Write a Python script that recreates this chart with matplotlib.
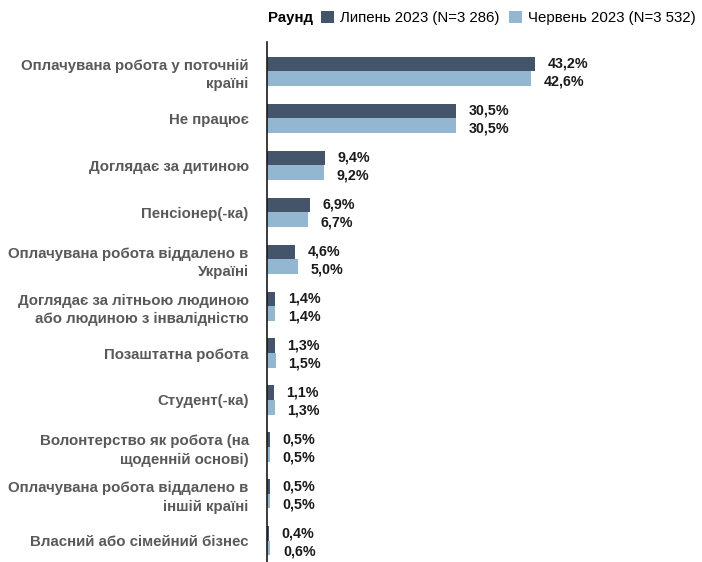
import numpy as np
import matplotlib.pyplot as plt

plt.rcParams['font.family'] = ['Liberation Sans', 'DejaVu Sans']

categories = [
    'Оплачувана робота у поточній\nкраїні',
    'Не працює',
    'Доглядає за дитиною',
    'Пенсіонер(-ка)',
    'Оплачувана робота віддалено в\nУкраїні',
    'Доглядає за літньою людиною\nабо людиною з інвалідністю',
    'Позаштатна робота',
    'Студент(-ка)',
    'Волонтерство як робота (на\nщоденній основі)',
    'Оплачувана робота віддалено в\nіншій країні',
    'Власний або сімейний бізнес',
]
july = [43.2, 30.5, 9.4, 6.9, 4.6, 1.4, 1.3, 1.1, 0.5, 0.5, 0.4]
june = [42.6, 30.5, 9.2, 6.7, 5.0, 1.4, 1.5, 1.3, 0.5, 0.5, 0.6]
series_names = ['Липень 2023 (N=3 286)', 'Червень 2023 (N=3 532)']

dark = '#44546a'
light = '#94b7d1'

fig = plt.figure(figsize=(7.02, 5.62), dpi=100)
ax = fig.add_axes([0.38, 0.0, 0.57, 0.925])

y = np.arange(len(categories))
h = 0.31
b1 = ax.barh(y - h / 2, july, height=h, color=dark, label=series_names[0])
b2 = ax.barh(y + h / 2, june, height=h, color=light, label=series_names[1])

for bars, vals, dy in ((b1, july, 0), (b2, june, -2.2)):
    for bar, v in zip(bars, vals):
        ax.annotate(f'{v:.1f}%'.replace('.', ','),
                    (bar.get_width(), bar.get_y() + bar.get_height() / 2),
                    xytext=(9, dy), textcoords='offset points',
                    va='center', ha='left', fontsize=10.3,
                    fontweight='bold', color='#1a1a1a')

ax.set_xlim(0, 64.5)
ax.set_ylim(len(categories) - 1 + 0.45, -0.62)
ax.set_yticks(y)
ax.set_yticklabels(categories, fontsize=10.8, fontweight='bold',
                   color='#595959', linespacing=1.4)
ax.tick_params(axis='y', length=0, pad=13)
ax.set_xticks([])
for s in ('top', 'right', 'bottom'):
    ax.spines[s].set_visible(False)
ax.spines['left'].set_color('#1a1a1a')
ax.spines['left'].set_linewidth(1.2)

fig.text(0.382, 0.968, 'Раунд', fontsize=10.8, fontweight='bold',
         va='center', ha='left')
fig.legend(handles=[b1, b2], labels=series_names, ncol=2, frameon=False,
           loc='center left', bbox_to_anchor=(0.457, 0.968),
           fontsize=10.8, handlelength=0.85, handleheight=0.85,
           handletextpad=0.45, columnspacing=0.6, borderpad=0, borderaxespad=0)

fig.savefig('out.png', dpi=100)
